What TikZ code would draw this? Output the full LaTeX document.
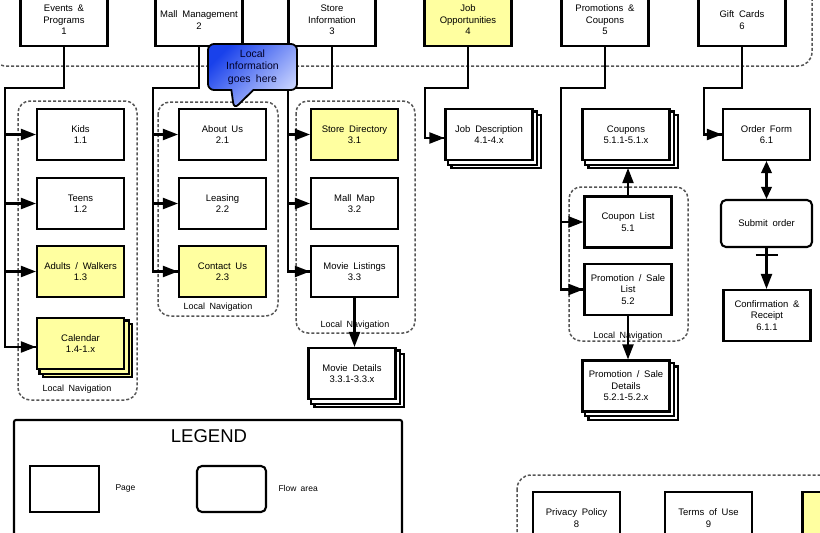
\documentclass[tikz,border=0pt]{standalone}
\usepackage{fontspec}
\setmainfont{Liberation Sans}[WordSpace=1.8]
\usetikzlibrary{arrows.meta,shapes.callouts,backgrounds}
\definecolor{pgyellow}{RGB}{255,255,160}
\definecolor{navgray}{RGB}{85,85,85}
\definecolor{cdark}{RGB}{25,65,235}
\definecolor{clight}{RGB}{205,215,255}
\newcommand{\stackback}[2]{%
  \begin{pgfonlayer}{background}
  \draw[line width=2.1pt, fill=#2] ([shift={(7pt,-7pt)}]#1.north west) rectangle ([shift={(7pt,-7pt)}]#1.south east);
  \draw[line width=2.1pt, fill=#2] ([shift={(3.5pt,-3.5pt)}]#1.north west) rectangle ([shift={(3.5pt,-3.5pt)}]#1.south east);
  \end{pgfonlayer}}
\begin{document}
\begin{tikzpicture}[x=1pt,y=-1pt,
  every node/.style={font=\fontsize{9.5}{11.5}\selectfont, align=center, text=black},
  pagebox/.style={draw, line width=2.1pt, fill=white, minimum width=87pt, minimum height=51pt, inner sep=1pt},
  ypagebox/.style={pagebox, fill=pgyellow},
  topbox/.style={pagebox, minimum height=52pt},
  flowbox/.style={pagebox, rounded corners=5pt},
  nav/.style={draw=navgray, line width=1.5pt, rounded corners=12pt, dash pattern=on 3pt off 2pt},
  navlabel/.style={font=\fontsize{9}{10}\selectfont},
  conn/.style={line width=2.1pt},
  arr/.style={conn, -{Triangle[length=15pt,width=11pt]}},
  darr/.style={conn, {Triangle[length=12pt,width=10.5pt]}-{Triangle[length=12pt,width=10.5pt]}},
]
\useasboundingbox (0,0) rectangle (820,533);

% dashed regions
\draw[nav, rounded corners=14pt] (-8,-30) rectangle (812,66);
\draw[nav, rounded corners=14pt] (517,475) rectangle (850,580);
\draw[nav] (18,101) rectangle (137,400);
\draw[nav] (158,102) rectangle (278,316);
\draw[nav] (296,101) rectangle (415,333);
\draw[nav] (569,187) rectangle (688,341);
\node[navlabel] (nl1) at (77,389) {Local Navigation};
\node[navlabel] (nl2) at (218,307) {Local Navigation};
\node[navlabel] (nl3) at (355,325) {Local Navigation};
\node[navlabel] (nl5) at (628,336) {Local Navigation};

% top level
\node[topbox] (ev) at (64,20) {Events \&\\Programs\\1};
\node[topbox] (mm) at (199,20) {Mall Management\\2};
\node[topbox] (si) at (332,20) {Store\\Information\\3};
\node[topbox, fill=pgyellow] (jo) at (468,20) {Job\\Opportunities\\4};
\node[topbox] (pc) at (605,20) {Promotions \&\\Coupons\\5};
\node[topbox] (gc) at (742,20) {Gift Cards\\6};

% column 1
\node[pagebox] (kids) at (80.5,134.5) {Kids\\1.1};
\node[pagebox] (teens) at (80.5,203.5) {Teens\\1.2};
\node[ypagebox] (adults) at (80.5,271.5) {Adults / Walkers\\1.3};
\node[ypagebox] (cal) at (80.5,343.5) {Calendar\\1.4-1.x};
\stackback{cal}{pgyellow}

% column 2
\node[pagebox] (about) at (222.5,134.5) {About Us\\2.1};
\node[pagebox] (leasing) at (222.5,203.5) {Leasing\\2.2};
\node[ypagebox] (contact) at (222.5,271.5) {Contact Us\\2.3};

% column 3
\node[ypagebox] (sd) at (354.5,134.5) {Store Directory\\3.1};
\node[pagebox] (map) at (354.5,203.5) {Mall Map\\3.2};
\node[pagebox] (movies) at (354.5,271.5) {Movie Listings\\3.3};
\node[pagebox] (md) at (352,373.5) {Movie Details\\3.3.1-3.3.x};
\stackback{md}{white}

% column 4
\node[pagebox] (jd) at (489,134.5) {Job Description\\4.1-4.x};
\stackback{jd}{white}

% column 5
\node[pagebox] (cp) at (626,134.5) {Coupons\\5.1.1-5.1.x};
\stackback{cp}{white}
\node[pagebox] (cl) at (628,222) {Coupon List\\5.1};
\node[pagebox] (pl) at (628,289.5) {Promotion / Sale\\List\\5.2};
\node[pagebox] (pd) at (626,386) {Promotion / Sale\\Details\\5.2.1-5.2.x};
\stackback{pd}{white}

% column 6
\node[pagebox] (of) at (766.5,134.5) {Order Form\\6.1};
\node[flowbox, minimum width=91pt, minimum height=47pt] (sub) at (766.5,223.5) {Submit order};
\node[pagebox, minimum height=51pt] (conf) at (767,315.5) {Confirmation \&\\Receipt\\6.1.1};

% bottom
\node[pagebox, minimum height=52pt] (pp) at (576.5,518) {Privacy Policy\\8};
\node[pagebox, minimum height=52pt] (tu) at (708.5,518) {Terms of Use\\9};
\node[ypagebox, minimum height=52pt] (yb) at (846,518) {};

% legend
\draw[line width=2.1pt, rounded corners=2pt] (14,420) rectangle (402,560);
\node[font=\fontsize{18.5}{20}\selectfont] (leg) at (209,436) {LEGEND};
\node[pagebox, minimum width=69pt, minimum height=46pt] (lp) at (64.5,489) {};
\node[anchor=west, font=\fontsize{8.5}{10}\selectfont] (lpt) at (112,488) {Page};
\node[flowbox, minimum width=69pt, minimum height=46pt] (lf) at (231.5,489) {};
\node[anchor=west, font=\fontsize{8.5}{10}\selectfont] (lft) at (275,488) {Flow area};

% connectors
\coordinate (c1) at (5,88);
\coordinate (c2) at (153,88);
\coordinate (c3) at (288,88);
\coordinate (c4) at (425,88);
\coordinate (c5) at (561,88);
\coordinate (c6) at (704,88);

\draw[conn] (ev.south) |- (c1) |- ([yshift=-3.5pt]cal.west);
\draw[arr] (kids.west -| c1) -- (kids.west);
\draw[arr] (teens.west -| c1) -- (teens.west);
\draw[arr] (adults.west -| c1) -- (adults.west);
\draw[arr] ([yshift=-3.5pt]cal.west -| c1) -- ([yshift=-3.5pt]cal.west);

\draw[conn] (mm.south) |- (c2) |- (contact.west);
\draw[arr] (about.west -| c2) -- (about.west);
\draw[arr] (leasing.west -| c2) -- (leasing.west);
\draw[arr] (contact.west -| c2) -- (contact.west);

\draw[conn] (si.south) |- (c3) |- (movies.west);
\draw[arr] (sd.west -| c3) -- (sd.west);
\draw[arr] (map.west -| c3) -- (map.west);
\draw[arr] (movies.west -| c3) -- (movies.west);
\draw[arr] (movies.south) -- (movies.south |- md.north);

\draw[conn] (jo.south) |- (c4) |- ([yshift=-3.5pt]jd.west);
\draw[arr] ([yshift=-3.5pt]jd.west -| c4) -- ([yshift=-3.5pt]jd.west);

\draw[conn] (pc.south) |- (c5) |- (pl.west);
\draw[arr] (cl.west -| c5) -- (cl.west);
\draw[arr] (pl.west -| c5) -- (pl.west);
\draw[arr] (cl.north) -- ([yshift=-7pt]cl.north |- cp.south);
\draw[arr] (pl.south) -- (pl.south |- pd.north);

\draw[conn] (gc.south) |- (c6) |- (of.west);
\draw[arr] (of.west -| c6) -- (of.west);
\draw[darr] (of.south) -- (sub.north);
\draw[arr] (sub.south) -- (sub.south |- conf.north);
\draw[conn] ([xshift=-11pt,yshift=-7pt]sub.south) -- ([xshift=11pt,yshift=-7pt]sub.south);

% callout
\node[rectangle callout, callout absolute pointer={(234,109)}, callout pointer width=22pt,
  draw, line width=1.8pt, rounded corners=6pt, top color=cdark, bottom color=clight, shading angle=45,
  minimum width=89pt, minimum height=46pt, inner sep=1pt,
  font=\fontsize{10.5}{12.5}\selectfont, text=black!85!blue] (callout) at (252.5,67) {Local\\Information\\goes here};
\end{tikzpicture}
\end{document}
